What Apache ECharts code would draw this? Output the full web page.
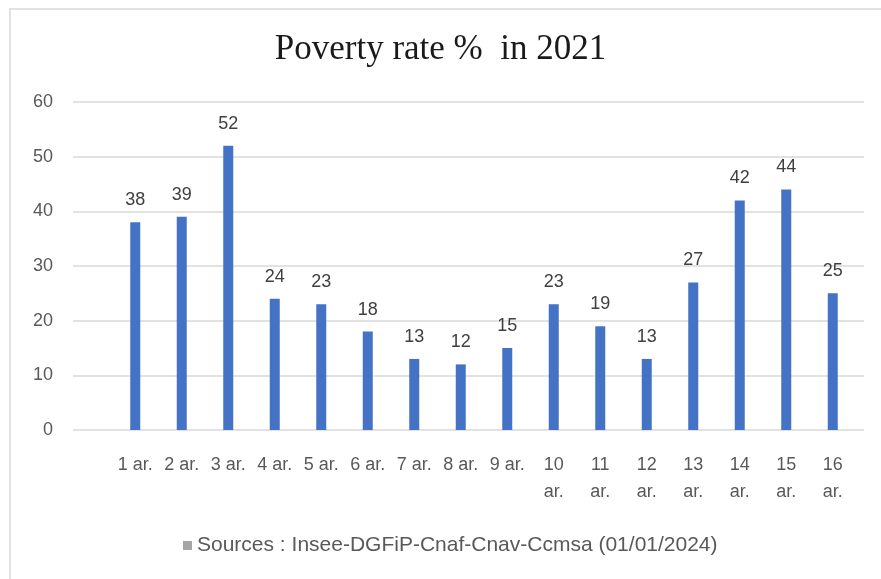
<!DOCTYPE html>
<html><head><meta charset="utf-8">
<script src="https://cdn.jsdelivr.net/npm/echarts@6/dist/echarts.min.js"></script>
<style>html,body{margin:0;padding:0;background:#fff}#c{width:881px;height:579px}</style>
</head><body><div id="c"></div>
<script>
const categories = ['1 ar.','2 ar.','3 ar.','4 ar.','5 ar.','6 ar.','7 ar.','8 ar.','9 ar.','10 ar.','11 ar.','12 ar.','13 ar.','14 ar.','15 ar.','16 ar.'];
const povertyRate = [38,39,52,24,23,18,13,12,15,23,19,13,27,42,44,25];
const yTicks = [0,10,20,30,40,50,60];
const titleText = 'Poverty rate %  in 2021';
const seriesName = 'Sources : Insee-DGFiP-Cnaf-Cnav-Ccmsa (01/01/2024)';

const chart = echarts.init(document.getElementById('c'));
const gray = '#595959';
chart.setOption({
  animation: false,
  backgroundColor: '#fff',
  title: {
    text: titleText, left: 'center', top: 27,
    textStyle: {fontFamily: 'Liberation Serif', fontWeight: 'normal', fontSize: 35, color: '#1a1a1a'}
  },
  legend: {
    top: 530, left: 178,
    data: [{name: seriesName, itemStyle: {color: '#a5a5a5'}}],
    itemWidth: 9, itemHeight: 9, itemGap: 4,
    icon: 'rect',
    textStyle: {fontFamily: 'Liberation Sans', fontSize: 21, color: gray}
  },
  graphic: [{
    type: 'rect', shape: {x: 10, y: 9, width: 900, height: 620},
    style: {fill: 'none', stroke: '#d9d9d9', lineWidth: 1.5}, silent: true
  }],
  grid: [
    {left: 73, right: 17, top: 102, bottom: 149},
    {left: 112, right: 25, top: 102, bottom: 149}
  ],
  xAxis: [
    {gridIndex: 0, type: 'value', show: false, min: 0, max: 1},
    {gridIndex: 1, type: 'category', data: categories,
     axisLine: {show: false}, axisTick: {show: false},
     axisLabel: {
       interval: 0, margin: 22, color: gray, fontFamily: 'Liberation Sans', fontSize: 18, lineHeight: 27,
       formatter: v => v.length > 5 ? v.replace(' ', '\n') : v
     }}
  ],
  yAxis: [
    {gridIndex: 0, type: 'value', min: yTicks[0], max: yTicks[yTicks.length-1], interval: 10,
     axisLine: {show: false}, axisTick: {show: false},
     axisLabel: {color: gray, fontFamily: 'Liberation Sans', fontSize: 18, margin: 20},
     splitLine: {lineStyle: {color: '#d9d9d9', width: 1.5}}},
    {gridIndex: 1, type: 'value', min: yTicks[0], max: yTicks[yTicks.length-1], interval: 10, show: false,
     splitLine: {show: false}}
  ],
  series: [{
    name: seriesName, type: 'bar', xAxisIndex: 1, yAxisIndex: 1,
    data: povertyRate, barWidth: 10,
    itemStyle: {color: '#4472C4'},
    label: {show: true, position: 'top', distance: 13, color: '#404040', fontFamily: 'Liberation Sans', fontSize: 18}
  }]
});
</script></body></html>
